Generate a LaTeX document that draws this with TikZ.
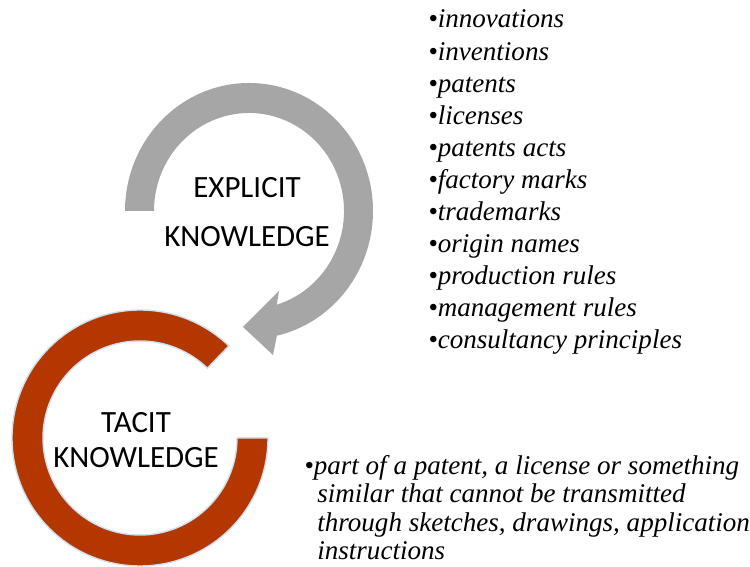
\documentclass[tikz,border=0pt]{standalone}
\usepackage{fontspec}
\setmainfont{Liberation Serif}
\newfontfamily\ringfont{Carlito}
\usetikzlibrary{calc}

\definecolor{Explicit}{HTML}{A6A6A6}
\definecolor{Tacit}{HTML}{B43700}
\definecolor{Glow}{HTML}{CFE0F2}

\tikzset{
  ring label/.style={anchor=base, inner sep=0pt, font=\ringfont\fontsize{17.6}{21}\selectfont},
  item/.style={anchor=base west, inner sep=0pt, font=\fontsize{15.4}{18}\selectfont\itshape}
}

\begin{document}
\begin{tikzpicture}[x=0.02cm, y=0.02cm]

 \useasboundingbox (0,0) rectangle (750,567) ;

%%%%%%%%%% Points pour travailler %%%%%%%%%%

 \coordinate (G) at (249,356) ;
 \coordinate (R) at (140,129) ;

 \coordinate (tip) at (243,240) ;
 \coordinate (barb1) at (279,276) ;
 \coordinate (barb2) at (273,212) ;

 %%%%%%%%%%% Explicit ring (arrow) %%%%%%%%%%%
 \fill [color=Explicit] ($(G)+(180:124 and 128)$) arc [start angle=180, end angle=-77, x radius=124, y radius=128]
   -- (barb2) -- (tip) -- (barb1)
   -- ($(G)+(-73:95 and 98)$) arc [start angle=-73, end angle=180, x radius=95, y radius=98] -- cycle ;

 %%%%%%%%%%% Tacit ring %%%%%%%%%%%
 \filldraw [fill=Tacit, draw=Glow, line width=0.8pt] ($(R)+(46:128)$) arc [start angle=46, end angle=360, radius=128]
   -- ($(R)+(0:97)$) arc [start angle=360, end angle=46, radius=97] -- cycle ;

 %%%%%%%%%%% Labels %%%%%%%%%%%
 \node [ring label] (explicit) at (247,369) {EXPLICIT} ;
 \node [ring label] (explicitK) at (247,320) {KNOWLEDGE} ;
 \node [ring label] (tacit) at (136,134) {TACIT} ;
 \node [ring label] (tacitK) at (136,99) {KNOWLEDGE} ;

 %%%%%%%%%%% Explicit list %%%%%%%%%%%
 \foreach \txt [count=\i from 0] in {innovations, inventions, patents, licenses, patents acts,
     factory marks, trademarks, origin names, production rules, management rules, consultancy principles}
   \node [item] (item\i) at (428,{539-32.1*\i}) {\textbullet\txt} ;

 %%%%%%%%%%% Tacit text %%%%%%%%%%%
 \node [item] (tacit1) at (304,92) {\textbullet part of a patent, a license or something} ;
 \node [item] (tacit2) at (317,64) {similar that cannot be transmitted} ;
 \node [item] (tacit3) at (317,35) {through sketches, drawings, application} ;
 \node [item] (tacit4) at (317,7) {instructions} ;

\end{tikzpicture}
\end{document}
